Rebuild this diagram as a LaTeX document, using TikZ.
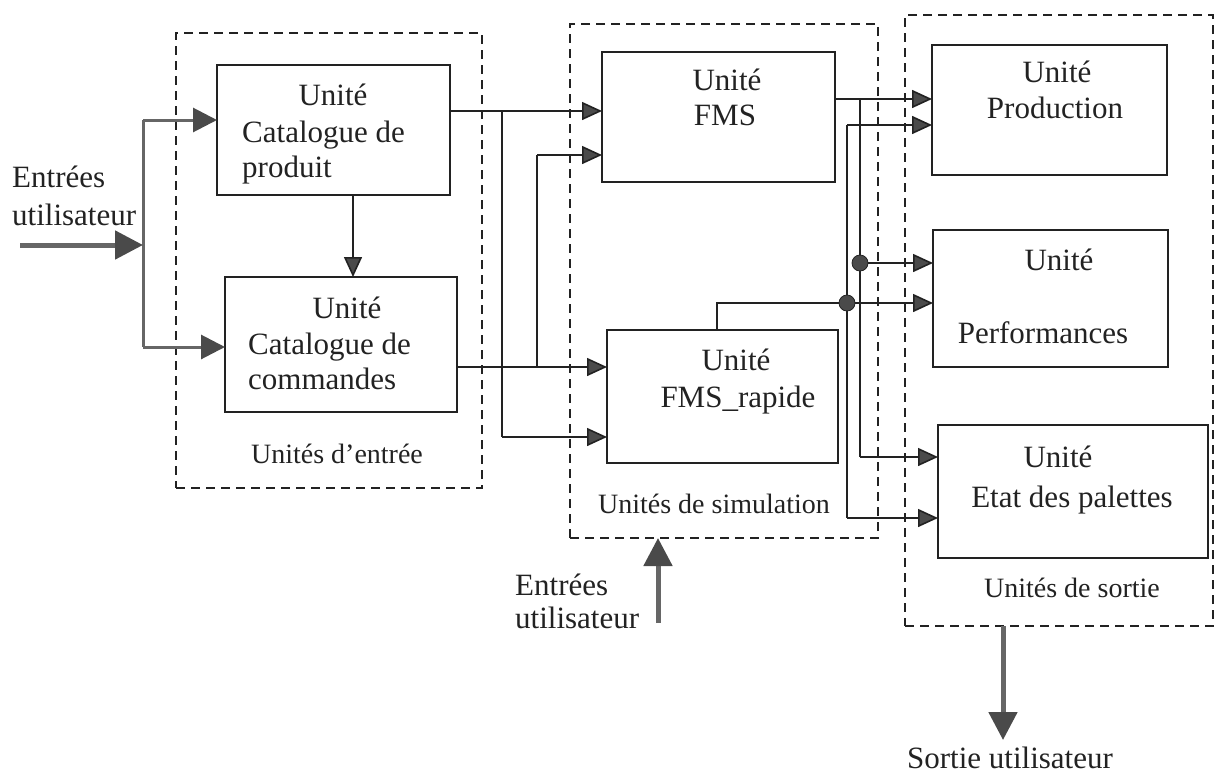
\documentclass[tikz,border=0pt]{standalone}
\usepackage{fontspec}
\setmainfont{Liberation Serif}
\usetikzlibrary{arrows.meta}
\definecolor{ink}{HTML}{222222}
\definecolor{tipgray}{HTML}{4A4A4A}
\definecolor{shaft}{HTML}{666666}

\begin{document}
\begin{tikzpicture}[x=1pt,y=-1pt,
  unit/.style={draw=ink, line width=2pt, inner sep=0, outer sep=0},
  group/.style={draw=ink, line width=2.2pt, dash pattern=on 9pt off 6pt, inner sep=0, outer sep=0},
  txt/.style={font=\fontsize{31}{36}\selectfont, text=ink, inner sep=0, anchor=base},
  txtw/.style={txt, anchor=base west},
  gtxt/.style={font=\fontsize{28}{33}\selectfont, text=ink, inner sep=0, anchor=base},
  wire/.style={draw=ink, line width=1.6pt},
  feed/.style={wire, -{Triangle[length=20pt,width=18pt,fill=tipgray]}},
  branch/.style={draw=shaft, line width=3pt},
  brfeed/.style={branch, -{Triangle[length=24pt,width=24pt,color=tipgray,fill=tipgray]}},
  bigarrow/.style={draw=shaft, line width=5pt, -{Triangle[length=28pt,width=28pt,color=tipgray,fill=tipgray]}},
  dot/.style={circle, fill=tipgray, draw=ink, line width=0.8pt, minimum size=16pt, inner sep=0}
]
\useasboundingbox (0,0) rectangle (1219,774);

% dashed unit groups
\node[group, minimum width=306pt, minimum height=455pt] (gin)  at (329,260.5) {};
\node[group, minimum width=308pt, minimum height=514pt] (gsim) at (724,281) {};
\node[group, minimum width=308pt, minimum height=611pt] (gout) at (1059,320.5) {};

% unit boxes
\node[unit, minimum width=233pt, minimum height=130pt] (prod)  at (333.5,130) {};
\node[unit, minimum width=232pt, minimum height=135pt] (cmd)   at (341,344.5) {};
\node[unit, minimum width=233pt, minimum height=130pt] (fms)   at (718.5,117) {};
\node[unit, minimum width=231pt, minimum height=133pt] (fmsr)  at (722.5,396.5) {};
\node[unit, minimum width=235pt, minimum height=130pt] (prodn) at (1049.5,110) {};
\node[unit, minimum width=235pt, minimum height=137pt] (perf)  at (1050.5,298.5) {};
\node[unit, minimum width=270pt, minimum height=133pt] (etat)  at (1073,491.5) {};

% box texts
\node[txt]  (t1a) at (333,105) {Unité};
\node[txtw] (t1b) at (242,142) {Catalogue de};
\node[txtw] (t1c) at (242,177) {produit};
\node[txt]  (t2a) at (347,318) {Unité};
\node[txtw] (t2b) at (248,354) {Catalogue de};
\node[txtw] (t2c) at (248,389) {commandes};
\node[txt]  (t3a) at (727,90) {Unité};
\node[txt]  (t3b) at (725,125) {FMS};
\node[txt]  (t4a) at (736,370) {Unité};
\node[txt]  (t4b) at (738,407) {FMS\_rapide};
\node[txt]  (t5a) at (1057,82) {Unité};
\node[txt]  (t5b) at (1055,118) {Production};
\node[txt]  (t6a) at (1059,270) {Unité};
\node[txt]  (t6b) at (1043,343) {Performances};
\node[txt]  (t7a) at (1058,467) {Unité};
\node[txt]  (t7b) at (1072,507) {Etat des palettes};

% group captions
\node[gtxt] (c1) at (337,463) {Unités d’entrée};
\node[gtxt] (c2) at (714,513) {Unités de simulation};
\node[gtxt] (c3) at (1072,597) {Unités de sortie};

% user inputs and output captions
\node[txtw] (u1a) at (12,187) {Entrées};
\node[txtw] (u1b) at (12,225) {utilisateur};
\node[txtw] (u2a) at (515,595) {Entrées};
\node[txtw] (u2b) at (515,628) {utilisateur};
\node[txt]  (u3)  at (1010,768) {Sortie utilisateur};

% user input feeding both catalogue units
\coordinate (bt) at (143,120);
\coordinate (bb) at (143,347);
\coordinate (uin) at (20,245);
\draw[branch] (bt) -- (bb);
\draw[brfeed] (bt) -- (bt -| prod.west);
\draw[brfeed] (bb) -- (bb -| cmd.west);
\draw[bigarrow] (uin) -- (uin -| bt);

% product catalogue to order catalogue
\coordinate (pc) at (353,0);
\draw[feed] (pc |- prod.south) -- (pc |- cmd.north);

% catalogue outputs to simulation units
\coordinate (p1) at (502,111);
\coordinate (p1b) at (502,437);
\draw[feed] (prod.east |- p1) -- (fms.west |- p1);
\draw[wire] (p1) -- (p1b);
\draw[feed] (p1b) -- (p1b -| fmsr.west);

\coordinate (q1) at (537,367);
\coordinate (q1t) at (537,155);
\draw[feed] (cmd.east |- q1) -- (fmsr.west |- q1);
\draw[wire] (q1) -- (q1t);
\draw[feed] (q1t) -- (q1t -| fms.west);

% FMS outputs
\coordinate (r1) at (860,99);
\coordinate (r1b) at (860,457);
\draw[feed] (fms.east |- r1) -- (prodn.west |- r1);
\draw[wire] (r1) -- (r1b);
\draw[feed] (r1b) -- (r1b -| etat.west);

% FMS_rapide outputs
\coordinate (s0) at (717,303);
\coordinate (s1) at (847,125);
\coordinate (s1b) at (847,518);
\coordinate (sj) at (847,303);
\draw[wire] (fmsr.north -| s0) -- (s0) -- (sj);
\draw[wire] (s1) -- (s1b);
\draw[feed] (s1) -- (s1 -| prodn.west);
\draw[feed] (s1b) -- (s1b -| etat.west);

% junctions towards the performance unit
\node[dot] (j1) at (860,263) {};
\node[dot] (j2) at (sj) {};
\draw[feed] (j1) -- (j1 -| perf.west);
\draw[feed] (j2) -- (j2 -| perf.west);

% user input to simulation, user output from outputs
\coordinate (simin) at (658,623);
\draw[bigarrow] (simin) -- (simin |- gsim.south);
\coordinate (sout) at (1003,740);
\draw[bigarrow] (gout.south -| sout) -- (sout);
\end{tikzpicture}
\end{document}
